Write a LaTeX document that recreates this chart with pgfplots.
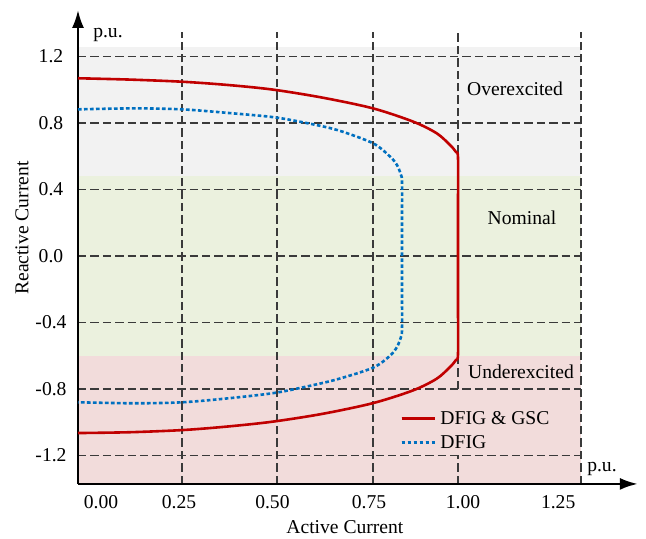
\documentclass[border=0pt]{standalone}
\usepackage{fontspec}
\setmainfont{Liberation Serif}
\usepackage{pgfplots}
\pgfplotsset{compat=1.18}
\usetikzlibrary{arrows.meta}

\definecolor{bggray}{HTML}{F2F2F2}
\definecolor{bggreen}{HTML}{EBF1DE}
\definecolor{bgpink}{HTML}{F2DCDB}
\definecolor{gridgray}{HTML}{3A3A3A}
\definecolor{limred}{HTML}{C00000}
\definecolor{limblue}{HTML}{0070C0}
\newcommand\chartfont{\fontsize{9.8}{11.8}\selectfont}

\begin{document}
\begin{tikzpicture}[font=\chartfont]
\begin{axis}[
  set layers=standard,
  x=179.5pt, y=83.125pt,
  xmin=-0.0585, xmax=1.501, ymin=-1.371, ymax=1.48,
  axis lines=left,
  axis line style={line width=1.25pt, -{Latex[length=9pt,width=6pt]}},
  clip=false,
  major tick length=0pt,
  xtick={0.0056,0.223,0.483,0.752,1.014,1.279},
  xticklabels={0.00,0.25,0.50,0.75,1.00,1.25},
  ytick={-1.2,-0.8,-0.4,0,0.4,0.8,1.2},
  yticklabels={-1.2,-0.8,-0.4,0.0,0.4,0.8,1.2},
  xticklabel style={anchor=center, yshift=-9pt, font=\chartfont},
  yticklabel style={anchor=center, xshift=-13.5pt, font=\chartfont},
  legend cell align=left,
  legend image code/.code={
    \draw[#1] (0pt,0pt) -- (13.5pt,0pt);
    \path (0pt,0pt) -- (16.5pt,0pt);
  },
  legend style={
    at={(axis cs:0.8384,-0.902)}, anchor=north west,
    draw=none, fill=none, inner sep=0pt, row sep=0pt,
    font=\chartfont,
    nodes={inner xsep=2.25pt, inner ysep=0pt, text height=9.3pt, text depth=2.7pt},
  },
]

% operating regions
\begin{pgfonlayer}{axis background}
  \fill[bggray]  (axis cs:-0.0585,0.48)  rectangle (axis cs:1.343,1.26);
  \fill[bggreen] (axis cs:-0.0585,-0.60) rectangle (axis cs:1.343,0.48);
  \fill[bgpink]  (axis cs:-0.0585,-1.371) rectangle (axis cs:1.343,-0.60);
\end{pgfonlayer}

% dashed grid
\begin{pgfonlayer}{axis grid}
  \pgfplotsinvokeforeach{-1.2,-0.8,-0.4,0,0.4,0.8,1.2}{
    \draw[gridgray, line width=0.85pt, dash pattern=on 4.2pt off 2pt]
      (axis cs:-0.0585,#1) -- (axis cs:1.343,#1);
  }
  \pgfplotsinvokeforeach{0.231,0.496,0.763,1.343}{
    \draw[gridgray, line width=0.85pt, dash pattern=on 4.2pt off 2pt]
      (axis cs:#1,-1.371) -- (axis cs:#1,1.35);
  }
  \draw[gridgray, line width=0.85pt, dash pattern=on 4.2pt off 2pt]
    (axis cs:1.0,-0.8) -- (axis cs:1.0,1.35);
  \draw[gridgray, line width=0.85pt, dash pattern=on 4.2pt off 2pt]
    (axis cs:1.0,-1.371) -- (axis cs:1.0,-1.2);
\end{pgfonlayer}

% capability limit with DFIG and grid-side converter
\addplot[limred, line width=1.3pt, smooth] coordinates {
  (-0.0585,1.069) (0.0864,1.061) (0.2331,1.048) (0.3565,1.029) (0.4819,1.0015)
  (0.6212,0.953) (0.7632,0.888) (0.8755,0.8078) (0.9407,0.738) (0.9777,0.6677)
  (0.9944,0.6255) (1.0,0.59) (1.0,0.3) (1.0,0) (1.0,-0.3)
  (1.0,-0.59) (0.9944,-0.6255) (0.9777,-0.6677) (0.9407,-0.738)
  (0.8755,-0.8078) (0.7632,-0.885) (0.6212,-0.950) (0.4819,-0.997)
  (0.3565,-1.026) (0.2331,-1.047) (0.0864,-1.060) (-0.0585,-1.065)
};
\addlegendentry{DFIG \& GSC}

% capability limit of the DFIG alone
\addplot[limblue, line width=1.3pt, dash pattern=on 1.8pt off 1.2pt, smooth] coordinates {
  (-0.0585,0.882) (0.1003,0.888) (0.2312,0.882) (0.351,0.862) (0.4819,0.836)
  (0.5682,0.804) (0.663,0.758) (0.7632,0.678) (0.8106,0.598) (0.8301,0.547)
  (0.8412,0.487) (0.844,0.445) (0.844,0.2) (0.844,0) (0.844,-0.2)
  (0.844,-0.445) (0.8412,-0.487) (0.8301,-0.547) (0.8106,-0.600)
  (0.7632,-0.672) (0.663,-0.742) (0.5682,-0.790) (0.4819,-0.826)
  (0.351,-0.858) (0.2312,-0.880) (0.1003,-0.886) (-0.0585,-0.880)
};
\addlegendentry{DFIG}

% region names and units
\node at (axis cs:1.159,1.0045) {Overexcited};
\node at (axis cs:1.178,0.2286) {Nominal};
\node at (axis cs:1.1755,-0.698) {Underexcited};
\node at (axis cs:0.025,1.33) {p.u.};
\node at (axis cs:1.401,-1.28) {p.u.};
\node[rotate=90] at (axis cs:-0.2145,0.168) {Reactive Current};
\node at (axis cs:0.685,-1.630) {Active Current};

\coordinate (bbsw) at (axis cs:-0.27577,-1.70226);
\coordinate (bbne) at (axis cs:1.52368,1.53985);
\end{axis}
\pgfresetboundingbox
\useasboundingbox (bbsw) rectangle (bbne);
\end{tikzpicture}
\end{document}
